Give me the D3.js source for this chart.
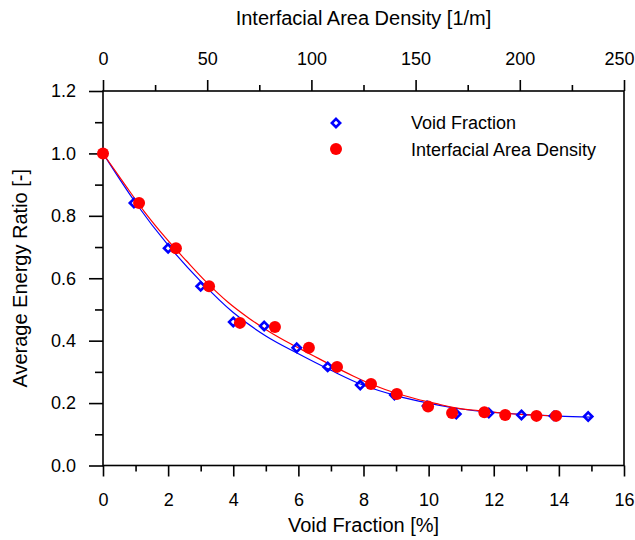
<!DOCTYPE html>
<html>
<head>
<meta charset="utf-8">
<script src="https://cdn.jsdelivr.net/npm/d3@7"></script>
<style>
  html, body { margin: 0; padding: 0; background: #fff; }
  svg text { font-family: "Liberation Sans", Arial, Helvetica, sans-serif; fill: #000; }
</style>
</head>
<body>
<svg id="chart" width="635" height="540"></svg>
<script>
// ---- data ----
const voidX = [0, 0.95, 2.0, 3.0, 4.0, 4.95, 5.95, 6.9, 7.9, 8.95, 9.95, 10.85, 11.85, 12.85, 13.85, 14.9];
const voidY = [1.0, 0.841, 0.696, 0.574, 0.46, 0.447, 0.377, 0.316, 0.258, 0.226, 0.191, 0.165, 0.168, 0.162, 0.159, 0.157];

const iadX = [0, 17.3, 35, 50.9, 65.7, 82.5, 98.8, 112.3, 128.6, 141, 156, 167.5, 183, 193, 208, 217.4];
const iadY = [1.0, 0.841, 0.696, 0.574, 0.457, 0.444, 0.377, 0.316, 0.261, 0.229, 0.189, 0.168, 0.171, 0.162, 0.159, 0.159];

// fitted curves
const voidFitX = [0, 1, 2, 3, 4, 5, 6, 7, 8, 9, 10, 11, 12, 13, 14, 15];
const voidFitY = [1.0, 0.842, 0.706, 0.59, 0.49, 0.415, 0.358, 0.305, 0.257, 0.224, 0.2, 0.181, 0.17, 0.163, 0.158, 0.155];

const iadFitX = [0, 10, 20, 30, 40, 50, 60, 70, 80, 90, 100, 110, 120, 130, 140, 150, 160, 170, 180, 190, 200, 210, 218];
const iadFitY = [1.0, 0.905, 0.812, 0.73, 0.656, 0.585, 0.523, 0.472, 0.428, 0.39, 0.355, 0.32, 0.287, 0.257, 0.233, 0.214, 0.198, 0.184, 0.176, 0.169, 0.164, 0.161, 0.158];

const bottomTicks = [0, 2, 4, 6, 8, 10, 12, 14, 16];
const topTicks = [0, 50, 100, 150, 200, 250];
const yTicks = [0.0, 0.2, 0.4, 0.6, 0.8, 1.0, 1.2];

const legendLabels = ["Void Fraction", "Interfacial Area Density"];

// ---- layout ----
const L = 103, R = 624, T = 91, B = 465.5;
const svg = d3.select("#chart");

const x = d3.scaleLinear().domain([0, 16]).range([L, R]);
const xTop = d3.scaleLinear().domain([0, 250]).range([L, R]);
const y = d3.scaleLinear().domain([0, 1.2]).range([B, T]);

const FS = 18;      // tick labels and legend
const TFS = 20;     // axis titles

// minor ticks
const bottomMinor = d3.range(1, 16, 2);
const topMinor = d3.range(25, 250, 50);
const yMinor = d3.range(0.1, 1.2, 0.2);

function styleAxis(g) {
  g.selectAll(".domain").remove();
  g.selectAll("line").attr("stroke", "#000").attr("stroke-width", 1.6);
  g.selectAll("text").style("font-size", FS + "px");
}

// bottom axis
svg.append("g").attr("transform", `translate(0,${B})`)
  .call(d3.axisBottom(x).tickValues(bottomMinor).tickSize(6).tickFormat(""))
  .call(styleAxis);
svg.append("g").attr("transform", `translate(0,${B})`)
  .call(d3.axisBottom(x).tickValues(bottomTicks).tickSize(11).tickPadding(17).tickFormat(d3.format("d")))
  .call(styleAxis);

// top axis
svg.append("g").attr("transform", `translate(0,${T})`)
  .call(d3.axisTop(xTop).tickValues(topMinor).tickSize(6).tickFormat(""))
  .call(styleAxis);
const topAx = svg.append("g").attr("transform", `translate(0,${T})`)
  .call(d3.axisTop(xTop).tickValues(topTicks).tickSize(11).tickPadding(15).tickFormat(d3.format("d")))
  .call(styleAxis);
// keep the last label inside the window
topAx.selectAll(".tick").filter(d => d === 250).select("text")
  .attr("text-anchor", "end").attr("x", 634 - R);

// left axis
svg.append("g").attr("transform", `translate(${L},0)`)
  .call(d3.axisLeft(y).tickValues(yMinor).tickSize(8).tickFormat(""))
  .call(styleAxis);
svg.append("g").attr("transform", `translate(${L},0)`)
  .call(d3.axisLeft(y).tickValues(yTicks).tickSize(14).tickPadding(13).tickFormat(d3.format(".1f")))
  .call(styleAxis);

// frame
svg.append("rect").attr("x", L).attr("y", T).attr("width", R - L).attr("height", B - T)
  .attr("fill", "none").attr("stroke", "#000").attr("stroke-width", 1.6);

// axis titles
svg.append("text").attr("x", (L + R) / 2).attr("y", 25).attr("text-anchor", "middle")
  .style("font-size", TFS + "px").text("Interfacial Area Density [1/m]");
svg.append("text").attr("x", (L + R) / 2).attr("y", 532).attr("text-anchor", "middle")
  .style("font-size", TFS + "px").text("Void Fraction [%]");
svg.append("text").attr("transform", `translate(27,${(T + B) / 2}) rotate(-90)`).attr("text-anchor", "middle")
  .style("font-size", TFS + "px").text("Average Energy Ratio [-]");

// fitted curves
const blueLine = d3.line().x((d, i) => x(voidFitX[i])).y((d, i) => y(voidFitY[i])).curve(d3.curveMonotoneX);
const redLine = d3.line().x((d, i) => xTop(iadFitX[i])).y((d, i) => y(iadFitY[i])).curve(d3.curveMonotoneX);

svg.append("path").attr("d", blueLine(voidFitX)).attr("fill", "none").attr("stroke", "#0000ff").attr("stroke-width", 1.2);
svg.append("path").attr("d", redLine(iadFitX)).attr("fill", "none").attr("stroke", "#ff0000").attr("stroke-width", 1.2);

// markers
const diamond = d3.symbol().type(d3.symbolDiamond2).size(44);
svg.append("g").selectAll("path").data(voidX).join("path")
  .attr("transform", (d, i) => `translate(${x(d)},${y(voidY[i])})`)
  .attr("d", diamond).attr("fill", "none").attr("stroke", "#0000ff").attr("stroke-width", 2.6);

svg.append("g").selectAll("circle").data(iadX).join("circle")
  .attr("cx", d => xTop(d)).attr("cy", (d, i) => y(iadY[i])).attr("r", 6)
  .attr("fill", "#ff0000");

// legend
svg.append("path").attr("transform", "translate(336,123)").attr("d", diamond)
  .attr("fill", "none").attr("stroke", "#0000ff").attr("stroke-width", 2.6);
svg.append("circle").attr("cx", 336).attr("cy", 149).attr("r", 6).attr("fill", "#ff0000");
svg.append("text").attr("x", 411).attr("y", 129).style("font-size", FS + "px").text(legendLabels[0]);
svg.append("text").attr("x", 411).attr("y", 156).style("font-size", FS + "px").text(legendLabels[1]);
</script>
</body>
</html>
